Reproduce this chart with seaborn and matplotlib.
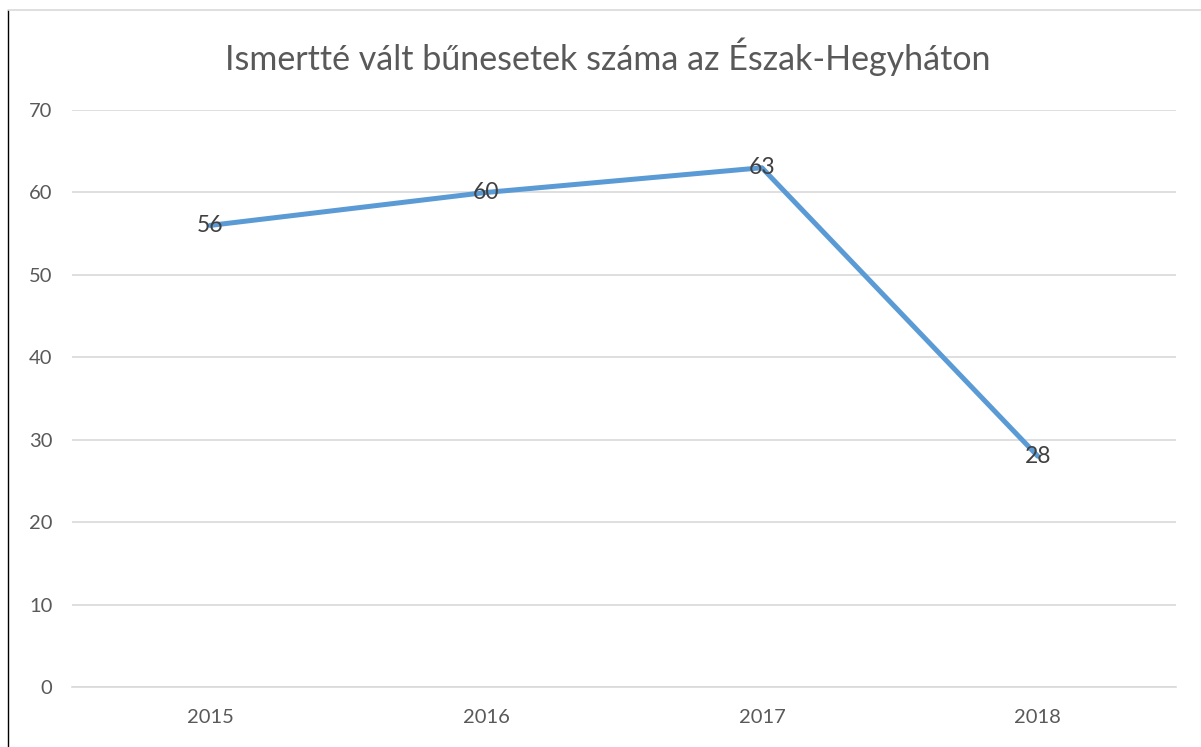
import matplotlib
matplotlib.use("Agg")
import matplotlib.pyplot as plt
import seaborn as sns
import pandas as pd
from matplotlib.lines import Line2D

# ---------- Data ----------
years = ["2015", "2016", "2017", "2018"]
cases = [56, 60, 63, 28]
title = "Ismertté vált bűnesetek száma az Észak-Hegyháton"

df = pd.DataFrame({"year": years, "cases": cases})

# ---------- Style ----------
sns.set_theme(style="white")
plt.rcParams['font.family'] = ['Lato', 'DejaVu Sans']

fig = plt.figure(figsize=(12.01, 7.47), dpi=100)
ax = fig.add_axes([0.060, 0.0803, 0.919, 0.7724])

sns.lineplot(data=df, x="year", y="cases", color="#5B9BD5", linewidth=3.6,
             sort=False, ax=ax, solid_capstyle="round")

# data labels centred on points
for i, v in enumerate(cases):
    ax.text(i, v, str(v), ha="center", va="center", fontsize=16.5, color="#404040")

ax.set_xlim(-0.5, len(years) - 0.5)
ax.set_ylim(0, 70)
ax.set_yticks(range(0, 71, 10))
ax.yaxis.grid(True, color="#D9D9D9", linewidth=1.2)
ax.set_axisbelow(True)
for s in ax.spines.values():
    s.set_visible(False)
ax.spines["bottom"].set_visible(True)
ax.spines["bottom"].set_color("#D9D9D9")
ax.spines["bottom"].set_linewidth(1.2)
ax.tick_params(axis="both", length=0, labelsize=14.5, colors="#595959", pad=14)
ax.tick_params(axis="x", pad=16)
ax.set_xlabel("")
ax.set_ylabel("")

fig.text(0.506, 0.924, title, ha="center", va="center", fontsize=24.5, color="#595959")

# chart frame (left and top edges)
fig.add_artist(Line2D([0.0070, 0.0070], [0.0, 0.986], color="black", linewidth=1.0))
fig.add_artist(Line2D([0.0070, 1.0], [0.986, 0.986], color="#D9D9D9", linewidth=1.2))

fig.savefig("out.png", dpi=100)
